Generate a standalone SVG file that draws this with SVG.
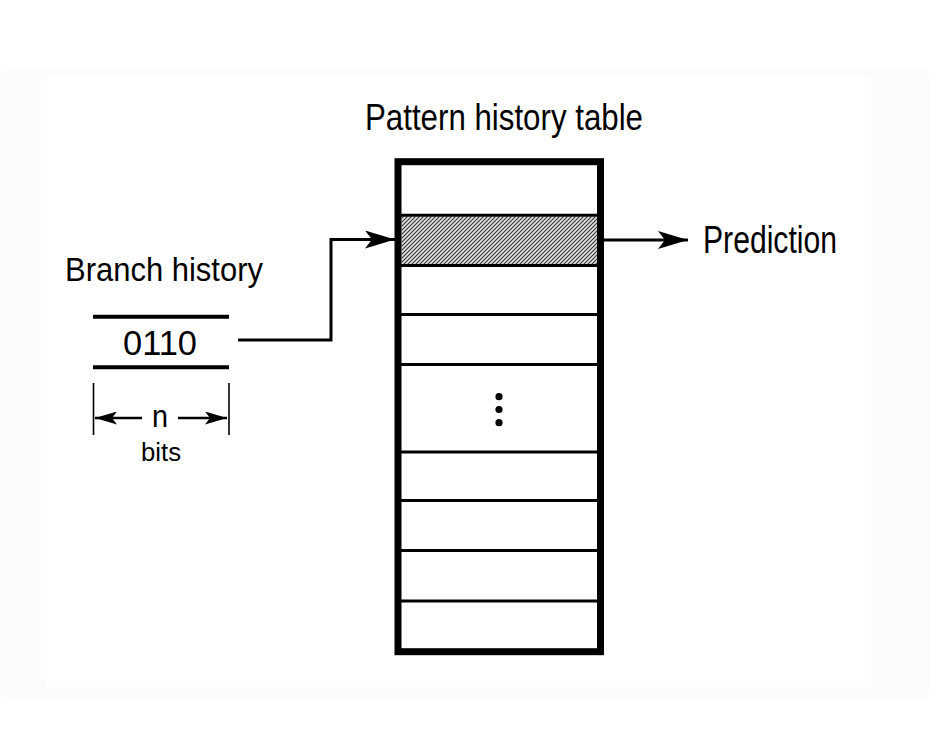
<svg xmlns="http://www.w3.org/2000/svg" width="940" height="734" viewBox="0 0 940 734">
<style>
.t{font-family:"Liberation Sans",Arial,sans-serif;fill:#000}
.thin{stroke:#000;fill:none}
</style>
<defs>
<pattern id="hatch" patternUnits="userSpaceOnUse" width="4" height="4">
<rect width="4" height="4" fill="#e2e2e2"/>
<path d="M-1,1 L1,-1 M0,4 L4,0 M3,5 L5,3" stroke="#3a3a3a" stroke-width="1.2"/>
</pattern>
<marker id="ah" viewBox="0 0 30 18" refX="30" refY="9" markerWidth="30" markerHeight="18" markerUnits="userSpaceOnUse" orient="auto">
<path d="M0,0 L30,9 L0,18 L7,9 Z" fill="#000"/>
</marker>
<marker id="ahs" viewBox="0 0 22 13" refX="22" refY="6.5" markerWidth="22" markerHeight="13" markerUnits="userSpaceOnUse" orient="auto">
<path d="M0,0 L22,6.5 L0,13 L5,6.5 Z" fill="#000"/>
</marker>
</defs>
<rect width="940" height="734" fill="#fff"/>
<rect x="0" y="69" width="930" height="631" rx="10" fill="#fcfcfc"/>
<rect x="46" y="78" width="825" height="609" fill="#fff"/>

<g id="pattern-history-table">
<text class="t" x="365" y="130" font-size="37" textLength="278" lengthAdjust="spacingAndGlyphs">Pattern history table</text>
<rect x="401.5" y="216.5" width="196" height="48" fill="url(#hatch)"/>
<g stroke="#000" stroke-width="3">
<line x1="398" y1="215.3" x2="600" y2="215.3"/>
<line x1="398" y1="265.5" x2="600" y2="265.5"/>
<line x1="398" y1="314.5" x2="600" y2="314.5"/>
<line x1="398" y1="364.5" x2="600" y2="364.5"/>
<line x1="398" y1="452" x2="600" y2="452"/>
<line x1="398" y1="500.5" x2="600" y2="500.5"/>
<line x1="398" y1="550.5" x2="600" y2="550.5"/>
<line x1="398" y1="601" x2="600" y2="601"/>
</g>
<rect x="398" y="161.7" width="202.5" height="490" fill="none" stroke="#000" stroke-width="7"/>
<circle cx="499" cy="396.7" r="3.6" fill="#000"/>
<circle cx="499" cy="409.5" r="3.6" fill="#000"/>
<circle cx="499" cy="422.7" r="3.6" fill="#000"/>
</g>

<g id="branch-history">
<text class="t" x="65" y="281" font-size="34" textLength="198" lengthAdjust="spacingAndGlyphs">Branch history</text>
<line x1="93" y1="316.7" x2="229" y2="316.7" stroke="#000" stroke-width="4"/>
<line x1="93" y1="367.3" x2="229" y2="367.3" stroke="#000" stroke-width="4"/>
<text class="t" x="160" y="355" font-size="35" text-anchor="middle" textLength="74" lengthAdjust="spacingAndGlyphs">0110</text>
<line x1="93.5" y1="383" x2="93.5" y2="435" class="thin" stroke-width="1.6"/>
<line x1="229" y1="383" x2="229" y2="435" class="thin" stroke-width="1.6"/>
<line x1="142" y1="418" x2="95" y2="418" class="thin" stroke-width="2.4" marker-end="url(#ahs)"/>
<line x1="178" y1="418" x2="227" y2="418" class="thin" stroke-width="2.4" marker-end="url(#ahs)"/>
<text class="t" x="160" y="427" font-size="32" text-anchor="middle" textLength="16" lengthAdjust="spacingAndGlyphs">n</text>
<text class="t" x="161" y="461" font-size="25" text-anchor="middle" textLength="40" lengthAdjust="spacingAndGlyphs">bits</text>
</g>

<g id="prediction">
<text class="t" x="703" y="253" font-size="38" textLength="134" lengthAdjust="spacingAndGlyphs">Prediction</text>
</g>

<g id="connectors" fill="none" stroke="#000" stroke-width="3">
<path d="M238,340 H331 V239.5 H395" marker-end="url(#ah)"/>
<path d="M603,240 H688" marker-end="url(#ah)"/>
</g>
</svg>
